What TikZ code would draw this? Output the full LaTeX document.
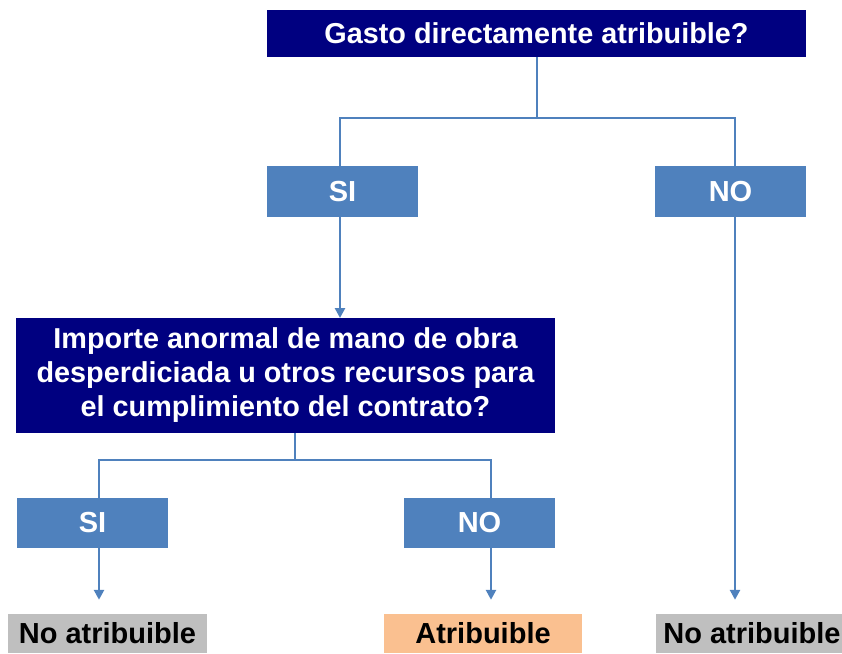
\documentclass[tikz,border=0pt]{standalone}
\usepackage{fontspec}
\setmainfont{Liberation Sans}
\usetikzlibrary{arrows.meta}
\definecolor{navyq}{HTML}{000080}
\definecolor{blueans}{HTML}{4F81BD}
\definecolor{grayres}{HTML}{BFBFBF}
\definecolor{orangeres}{HTML}{FAC090}
\begin{document}
\begin{tikzpicture}[x=1pt,y=-1pt,
  question/.style={fill=navyq,text=white,font=\fontsize{28.8}{34}\selectfont\bfseries,inner sep=0pt,align=center,minimum width=539pt},
  answer/.style={fill=blueans,text=white,font=\fontsize{29}{30}\selectfont\bfseries,inner sep=0pt,minimum width=151pt,minimum height=51pt},
  result/.style={text=black,font=\fontsize{29}{30}\selectfont\bfseries,inner sep=0pt,minimum height=39pt},
  link/.style={draw=blueans,line width=2.5pt},
  arrowlink/.style={link,-{Triangle[length=10pt,width=10pt]},shorten >=14pt}]
\useasboundingbox (0,0) rectangle (842,653);
\clip (0,0) rectangle (842,653);
\node[question,minimum height=47pt] (q1) at (536.5,33.5) {Gasto directamente atribuible?};
\node[answer] (si1) at (342.5,191.5) {SI};
\node[answer] (no1) at (730.5,191.5) {NO};
\node[question,minimum height=115pt] (q2) at (285.5,375.5) {Importe anormal de mano de obra\\desperdiciada u otros recursos para\\el cumplimiento del contrato?};
\node[answer,minimum height=50pt] (si2) at (92.5,523) {SI};
\node[answer,minimum height=50pt] (no2) at (479.5,523) {NO};
\node[result,fill=grayres,minimum width=199pt] (r1) at (107.5,633.5) {No atribuible};
\node[result,fill=orangeres,minimum width=198pt] (r2) at (483,633.5) {Atribuible};
\node[result,fill=grayres,minimum width=199pt] (r3) at (755.5,633.5) {\hspace*{-7pt}No atribuible};
\coordinate (j1) at (537,118);
\coordinate (j2) at (295,460);
\draw[link] (q1.south -| j1) -- (j1) -| (340,166);
\draw[link] (j1) -| (735,166);
\draw[arrowlink,shorten >=0pt] (340,217) -- (340,318);
\draw[link] (q2.south -| j2) -- (j2) -| (99,498);
\draw[link] (j2) -| (491,498);
\draw[arrowlink] (si2.south -| 99,0) -- (r1.north -| 99,0);
\draw[arrowlink] (no2.south -| 491,0) -- (r2.north -| 491,0);
\draw[arrowlink] (no1.south -| 735,0) -- (r3.north -| 735,0);
\end{tikzpicture}
\end{document}
